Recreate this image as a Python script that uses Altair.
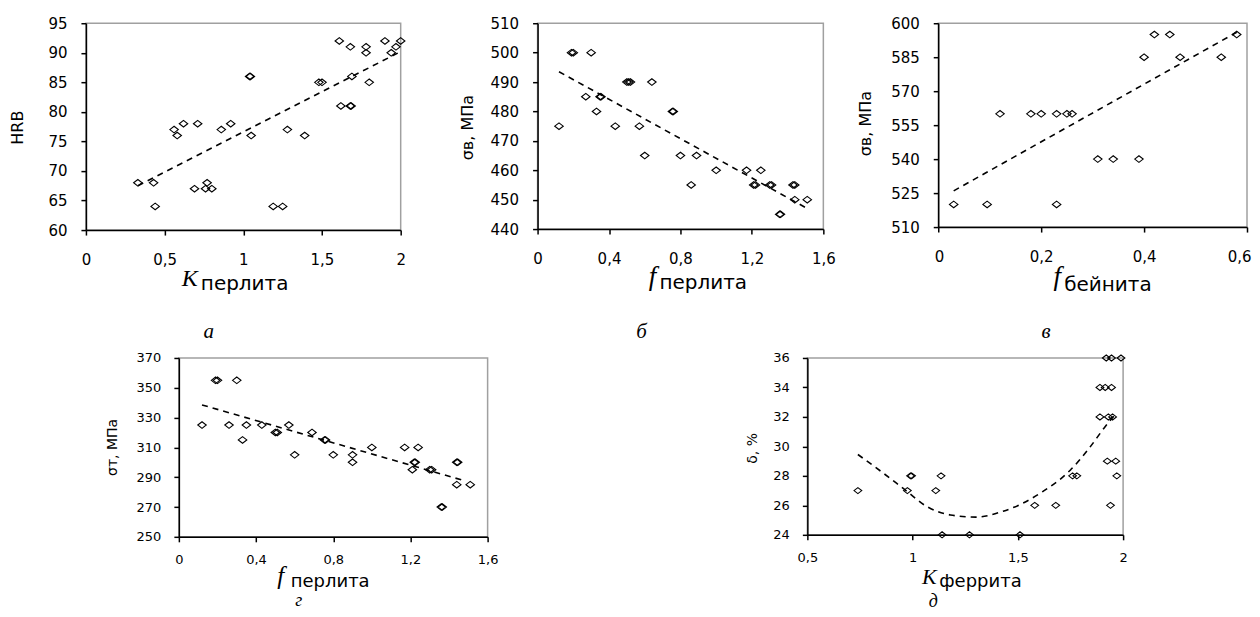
import altair as alt
import pandas as pd

# ---------- panel а : HRB vs K перлита ----------
a_x = [0.33, 0.43, 0.44, 0.56, 0.58, 0.62, 0.71, 0.69, 0.77, 0.76, 0.80, 0.86, 0.92, 1.04, 1.045,
       1.05, 1.19, 1.25, 1.28, 1.39, 1.48, 1.50, 1.61, 1.68, 1.62, 1.68, 1.685, 1.69, 1.78, 1.78,
       1.80, 1.90, 1.94, 1.97, 2.00]
a_y = [68, 68, 64, 77, 76, 78, 78, 67, 68, 67, 67, 77, 78, 86, 86,
       76, 64, 64, 77, 76, 85, 85, 92, 91, 81, 81, 81, 86, 91, 90,
       85, 92, 90, 91, 92]
a_trend_x = [0.33, 2.0]
a_trend_y = [67.5, 90.2]

# ---------- panel б : σв vs f перлита ----------
b_x = [0.12, 0.19, 0.20, 0.30, 0.27, 0.35, 0.355, 0.33, 0.435, 0.50, 0.51, 0.52, 0.57, 0.60, 0.64,
       0.755, 0.76, 0.80, 0.86, 0.89, 1.00, 1.17, 1.25, 1.21, 1.22, 1.30, 1.31, 1.36, 1.355, 1.43,
       1.44, 1.44, 1.51]
b_y = [475, 500, 500, 500, 485, 485, 485, 480, 475, 490, 490, 490, 475, 465, 490,
       480, 480, 465, 455, 465, 460, 460, 460, 455, 455, 455, 455, 445, 445, 455,
       455, 450, 450]
b_trend_x = [0.12, 1.51]
b_trend_y = [493.5, 447.0]

# ---------- panel в : σв vs f бейнита ----------
c_x = [0.03, 0.095, 0.12, 0.18, 0.20, 0.23, 0.23, 0.25, 0.26, 0.31, 0.34, 0.39, 0.40, 0.42, 0.45,
       0.47, 0.55, 0.58]
c_y = [520, 520, 560, 560, 560, 560, 520, 560, 560, 540, 540, 540, 585, 595, 595,
       585, 585, 595]
c_trend_x = [0.03, 0.58]
c_trend_y = [526.0, 596.0]

# ---------- panel г : σт vs f перлита ----------
d_x = [0.12, 0.19, 0.20, 0.30, 0.26, 0.35, 0.33, 0.43, 0.50, 0.51, 0.57, 0.60, 0.69, 0.755, 0.76,
       0.80, 0.90, 0.90, 1.00, 1.17, 1.24, 1.22, 1.225, 1.21, 1.30, 1.31, 1.36, 1.365, 1.44, 1.445,
       1.44, 1.51]
d_y = [325, 355, 355, 355, 325, 325, 315, 325, 320, 320, 325, 305, 320, 315, 315,
       305, 305, 300, 310, 310, 310, 300, 300, 295, 295, 295, 270, 270, 300, 300,
       285, 285]
d_trend_x = [0.12, 1.47]
d_trend_y = [338.5, 288.0]

# ---------- panel д : δ vs K феррита ----------
e_x = [0.74, 0.99, 0.995, 0.975, 1.11, 1.135, 1.14, 1.27, 1.51, 1.58, 1.68, 1.76, 1.78, 1.89, 1.915,
       1.945, 1.92, 1.945, 1.99, 1.89, 1.93, 1.95, 1.925, 1.965, 1.97, 1.94]
e_y = [27, 28, 28, 27, 27, 28, 24, 24, 24, 26, 26, 28, 28, 34, 34,
       34, 36, 36, 36, 32, 32, 32, 29, 29, 28, 26]
e_curve_x = [0.74, 0.85, 0.96, 1.07, 1.18, 1.30, 1.43, 1.51, 1.62, 1.75, 1.84, 1.91, 1.97]
e_curve_y = [29.45, 28.3, 27.1, 25.9, 25.35, 25.2, 25.6, 26.05, 26.95, 28.4, 29.9, 31.25, 32.3]

DIAMOND = "M -1 0 L 0 -0.78 L 1 0 L 0 0.78 Z"
LABEL_EXPR = "replace(format(datum.value, '~g'), '.', ',')"


def panel(xs, ys, lx, ly, xdom, xvals, ydom, yvals, w, h, ytitle, ytx, yty,
          big, sub, big_pos, sub_pos, letter, letter_pos, small=False, sym=72, flush=False):
    fs = 13 if small else 15
    lpad_x = 12 if small else 17
    pts = pd.DataFrame({"x": xs, "y": ys})
    ln = pd.DataFrame({"x": lx, "y": ly})
    xsc = alt.Scale(domain=xdom, nice=False, zero=False)
    ysc = alt.Scale(domain=ydom, nice=False, zero=False)
    xkw = dict(labelFlush=True, labelFlushOffset=4) if flush else dict(labelFlush=False)
    xax = alt.Axis(values=xvals, labelExpr=LABEL_EXPR, title=None, labelOverlap=False,
                   labelFontSize=fs, labelPadding=lpad_x, **xkw)
    yax = alt.Axis(values=yvals, labelExpr=LABEL_EXPR, title=ytitle, labelOverlap=False,
                   labelFontSize=fs, labelPadding=13 if small else 14,
                   titleX=ytx, titleY=yty, titleAngle=270, titleAlign="center",
                   titleBaseline="middle", titleFontSize=16 if not small else 14,
                   titleFont="DejaVu Sans",
                   titleFontWeight="normal", titleColor="black")
    points = alt.Chart(pts).mark_point(shape=DIAMOND, filled=False, color="black",
                                       strokeWidth=1.1, size=sym, opacity=1).encode(
        x=alt.X("x:Q", scale=xsc, axis=xax),
        y=alt.Y("y:Q", scale=ysc, axis=yax),
    )
    line = alt.Chart(ln).mark_line(color="black", strokeWidth=1.6, strokeDash=[6, 5],
                                   interpolate="monotone").encode(
        x=alt.X("x:Q", scale=xsc, axis=xax),
        y=alt.Y("y:Q", scale=ysc, axis=yax),
    )
    one = pd.DataFrame({"t": [0]})
    bigfs = 24 if big == "K" else 27
    t_big = alt.Chart(one).mark_text(text=big, font="Liberation Serif", fontStyle="italic",
                                     fontSize=bigfs if not small else bigfs - 2,
                                     align="center", baseline="alphabetic", color="black").encode(
        x=alt.value(big_pos[0]), y=alt.value(big_pos[1]))
    t_sub = alt.Chart(one).mark_text(text=sub, font="DejaVu Sans",
                                     fontSize=20 if not small else 18,
                                     align="left", baseline="alphabetic", color="black").encode(
        x=alt.value(sub_pos[0]), y=alt.value(sub_pos[1]))
    t_let = alt.Chart(one).mark_text(text=letter, font="Liberation Serif", fontStyle="italic",
                                     fontSize=21 if not small else 18, align="center",
                                     baseline="middle", color="black").encode(
        x=alt.value(letter_pos[0]), y=alt.value(letter_pos[1]))
    return alt.layer(points, line, t_big, t_sub, t_let).properties(width=w, height=h)


pa = panel(a_x, a_y, a_trend_x, a_trend_y, [0, 2], [0, 0.5, 1, 1.5, 2],
           [60, 95], [60, 65, 70, 75, 80, 85, 90, 95], 315, 207, "HRB", -68, 104,
           "K", "перлита", (104, 263), (115, 267), "а", (123, 309))
pb = panel(b_x, b_y, b_trend_x, b_trend_y, [0, 1.6], [0, 0.4, 0.8, 1.2, 1.6],
           [440, 510], [440, 450, 460, 470, 480, 490, 500, 510], 286, 206, "σв, МПа", -70, 104,
           "f", "перлита", (115, 262), (122, 266), "б", (104, 309))
pc = panel(c_x, c_y, c_trend_x, c_trend_y, [0, 0.6], [0, 0.2, 0.4, 0.6],
           [510, 600], [510, 525, 540, 555, 570, 585, 600], 309, 204, "σв, МПа", -73, 100,
           "f", "бейнита", (119, 262), (126, 268), "в", (108, 309), flush=True)
pd_ = panel(d_x, d_y, d_trend_x, d_trend_y, [0, 1.6], [0, 0.4, 0.8, 1.2, 1.6],
            [250, 370], [250, 270, 290, 310, 330, 350, 370], 309, 179, "σт, МПа", -66, 89,
            "f", "перлита", (102, 226), (112, 229), "г", (120, 243), small=True)
pe = panel(e_x, e_y, e_curve_x, e_curve_y, [0.5, 2], [0.5, 1, 1.5, 2],
           [24, 36], [24, 26, 28, 30, 32, 34, 36], 316, 177, "δ, %", -55, 90,
           "K", "феррита", (122, 226), (132, 229), "д", (126, 244), small=True, sym=60)

spacer = alt.Chart(pd.DataFrame({"t": [0]})).mark_text(text="").encode(
    x=alt.value(0), y=alt.value(0)).properties(width=93, height=10,
                                               view=alt.ViewBackground(strokeOpacity=0))

top = alt.hconcat(pa, alt.hconcat(pb, pc, spacing=115, bounds="flush"),
                  spacing=137, bounds="flush")
bottom = alt.hconcat(spacer, alt.hconcat(pd_, pe, spacing=320, bounds="flush"),
                     spacing=0, bounds="flush")

chart = alt.vconcat(top, bottom, spacing=8).properties(
    padding={"left": 1, "top": 7, "right": 0, "bottom": 0},
    background="white",
).configure_view(
    stroke="#a0a0a0", strokeWidth=1.5
).configure_axis(
    grid=False, domainColor="black", domainWidth=1.5, tickColor="black", tickWidth=1.5,
    tickSize=5, labelFont="DejaVu Sans", labelColor="black"
)

chart.save("out.html", embed_options={"renderer": "svg", "actions": False})
